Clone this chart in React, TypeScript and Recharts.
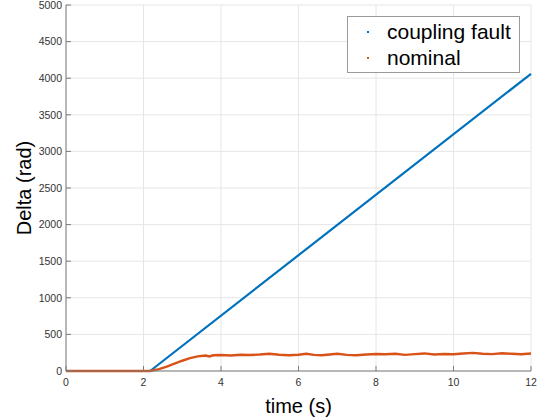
import { LineChart, Line, XAxis, YAxis, CartesianGrid } from 'recharts';

// coupling fault: flat until ~2.17 s, then a straight ramp
const faultTime = [0, 2.17, 12];
const faultDelta = [0, 0, 4060];

// nominal: flat, small rise, then noisy around ~225 rad
const nominalTime = [
  0, 2.17, 2.4, 2.6, 2.8, 3.0, 3.2, 3.4, 3.6, 3.7, 3.8, 4.0, 4.25, 4.5, 4.75, 5.0, 5.25, 5.5,
  5.75, 6.0, 6.2, 6.4, 6.6, 6.8, 7.0, 7.25, 7.5, 7.75, 8.0, 8.25, 8.5, 8.75, 9.0, 9.25, 9.5,
  9.75, 10.0, 10.25, 10.5, 10.75, 11.0, 11.25, 11.5, 11.75, 12,
];
const nominalDelta = [
  0, 0, 25, 60, 100, 140, 175, 200, 212, 198, 215, 218, 212, 222, 218, 225, 235, 222,
  215, 222, 235, 220, 215, 225, 235, 220, 215, 225, 232, 228, 235, 220, 230, 240, 225,
  232, 228, 240, 248, 235, 230, 242, 235, 228, 240,
];

const xTicks = [0, 2, 4, 6, 8, 10, 12];
const yTicks = [0, 500, 1000, 1500, 2000, 2500, 3000, 3500, 4000, 4500, 5000];

const SERIES = [
  { key: 'fault', name: 'coupling fault', color: '#0072BD' },
  { key: 'nominal', name: 'nominal', color: '#D95319' },
];

const faultData = faultTime.map((t, i) => ({ t, delta: faultDelta[i] }));
const nominalData = nominalTime.map((t, i) => ({ t, delta: nominalDelta[i] }));

const FONT = '"Liberation Sans", Arial, Helvetica, sans-serif';
const AXIS = '#7a7a7a';
const TICK = { fontSize: 10.5, fill: '#333', fontFamily: FONT };

// legend drawn as an overlay so it doesn't eat into the plot area
function LegendBox() {
  return (
    <div
      style={{
        position: 'absolute',
        left: 347,
        top: 16,
        border: '1px solid #9a9a9a',
        background: '#fff',
        width: 173,
        height: 57,
        boxSizing: 'border-box',
        fontFamily: FONT,
        fontSize: 21,
        color: '#000',
        paddingTop: 2,
      }}
    >
      {SERIES.map((s) => (
        <div key={s.key} style={{ display: 'flex', alignItems: 'center', height: 26 }}>
          <span
            style={{
              display: 'inline-block',
              width: 2,
              height: 2,
              background: s.color,
              marginLeft: 19,
              marginRight: 18,
            }}
          />
          <span>{s.name}</span>
        </div>
      ))}
    </div>
  );
}

export default function App() {
  return (
    <div style={{ position: 'absolute', left: 0, top: 0, width: 542, height: 419, background: '#fff' }}>
      <LineChart width={542} height={419} margin={{ top: 5, right: 11, left: 0, bottom: 0 }}>
        <CartesianGrid stroke="#e6e6e6" strokeWidth={1} xAxisId={0} yAxisId={0} />
        <XAxis
          xAxisId={0}
          dataKey="t"
          type="number"
          domain={[0, 12]}
          ticks={xTicks}
          allowDuplicatedCategory={false}
          height={48}
          stroke={AXIS}
          tickSize={-5}
          tickMargin={12.5}
          tick={TICK}
          label={{
            value: 'time (s)',
            position: 'insideBottom',
            offset: 6,
            style: { fontSize: 20, fill: '#000', fontFamily: FONT },
          }}
        />
        <XAxis
          xAxisId="top"
          orientation="top"
          type="number"
          domain={[0, 12]}
          ticks={xTicks}
          height={0}
          stroke={AXIS}
          tickSize={-5}
          tickFormatter={() => ''}
        />
        <YAxis
          yAxisId={0}
          type="number"
          domain={[0, 5000]}
          ticks={yTicks}
          width={66}
          stroke={AXIS}
          tickSize={-5}
          tickMargin={9}
          tick={TICK}
          label={{
            value: 'Delta (rad)',
            angle: -90,
            position: 'center',
            dx: -9,
            style: { fontSize: 20, fill: '#000', fontFamily: FONT, textAnchor: 'middle' },
          }}
        />
        <YAxis
          yAxisId="right"
          orientation="right"
          type="number"
          domain={[0, 5000]}
          ticks={yTicks}
          width={0}
          stroke={AXIS}
          tickSize={-5}
          tickFormatter={() => ''}
        />
        <Line
          data={faultData}
          dataKey="delta"
          name={SERIES[0].name}
          xAxisId={0}
          yAxisId={0}
          stroke={SERIES[0].color}
          strokeWidth={2.2}
          dot={false}
          isAnimationActive={false}
        />
        <Line
          data={nominalData}
          dataKey="delta"
          name={SERIES[1].name}
          xAxisId={0}
          yAxisId={0}
          stroke={SERIES[1].color}
          strokeWidth={2.4}
          dot={false}
          isAnimationActive={false}
        />
      </LineChart>
      <LegendBox />
    </div>
  );
}
